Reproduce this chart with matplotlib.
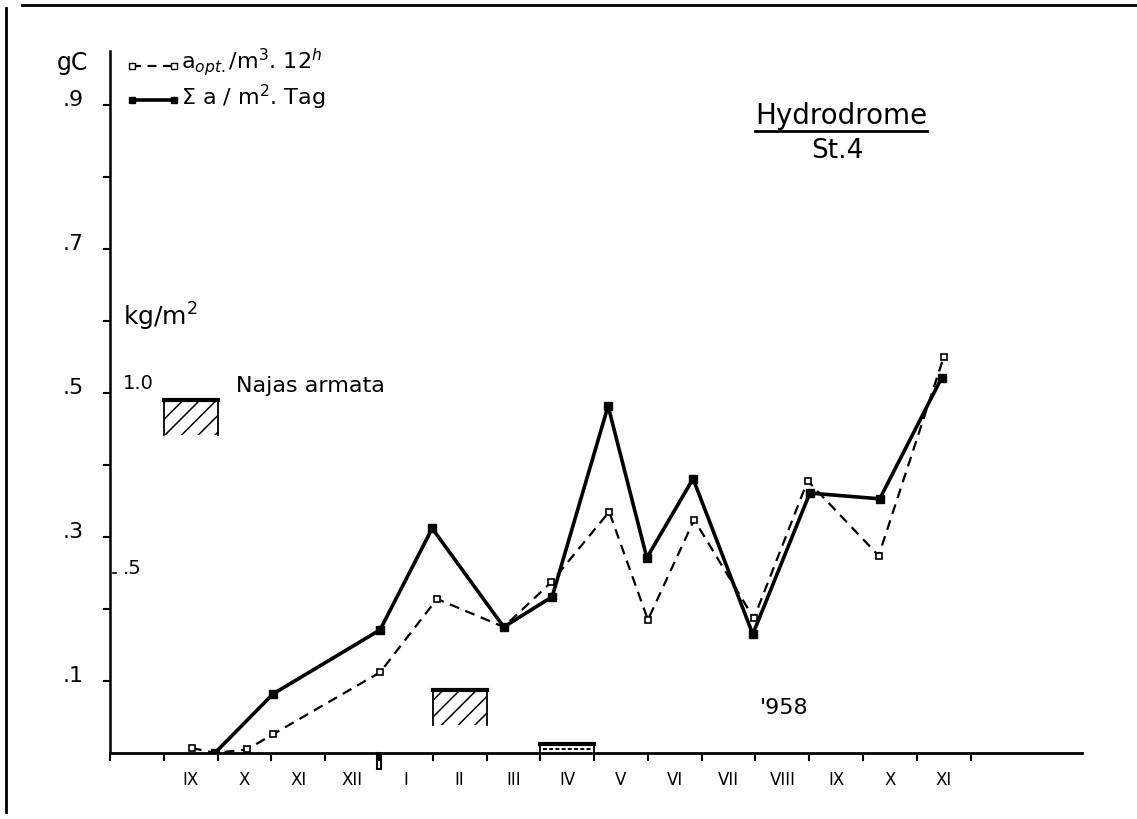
import matplotlib.pyplot as plt
from matplotlib.lines import Line2D
from matplotlib.patches import Rectangle
from matplotlib.transforms import ScaledTranslation

# months counted from start of VIII 1957 (0) ; label sits in the middle of each month
month_labels = ['IX', 'X', 'XI', 'XII', 'I', 'II', 'III', 'IV', 'V', 'VI', 'VII', 'VIII', 'IX', 'X', 'XI']
month_start = 1

# a_opt / m3 . 12h  (gC)
opt_x = [1.52, 1.95, 2.55, 3.03, 5.02, 6.08, 7.32, 8.20, 9.28, 10.0, 10.86, 11.97, 12.97, 14.29, 15.5]
opt_y = [0.007, 0.0, 0.005, 0.026, 0.112, 0.214, 0.175, 0.237, 0.335, 0.185, 0.324, 0.187, 0.378, 0.274, 0.55]

# sum a / m2 . Tag  (gC)
sum_x = [1.95, 3.03, 5.02, 5.99, 7.32, 8.22, 9.26, 9.98, 10.84, 11.95, 13.01, 14.31, 15.46]
sum_y = [0.0, 0.082, 0.171, 0.312, 0.175, 0.217, 0.482, 0.271, 0.381, 0.165, 0.361, 0.353, 0.521]

# Najas armata biomass (kg/m2), month index of the bar
najas_month = [1, 6, 8]
najas_kg = [0.98, 0.175, 0.025]

W, H = 1137, 819
fig = plt.figure(figsize=(W / 100, H / 100), dpi=100)
ax = fig.add_axes([110 / W, 1 - 753 / H, 972 / W, 702 / H])
ax.set_xlim(0, 18.07)
ax.set_ylim(0, 0.975)


def fx(px):
    return px / W


def fy(py):
    return 1 - py / H


# scan frame
fig.add_artist(Line2D([fx(6), fx(6)], [fy(8), fy(812)], color='black', lw=2))
fig.add_artist(Line2D([fx(22), fx(1137)], [fy(5), fy(5)], color='black', lw=2))

ax.plot(opt_x, opt_y, color='black', ls=(0, (4.5, 3)), lw=1.6, marker='s', ms=5,
        mfc='white', mec='black', mew=1.2, zorder=3)
ax.plot(sum_x, sum_y, color='black', lw=2.6, marker='s', ms=5.5, mfc='black', mec='black', zorder=4)

# Najas bars, hatched strip below the top line (drawn in gC scale: 1 kg/m2 = 0.5 gC)
plt.rcParams['hatch.linewidth'] = 1.1
strip = 0.048
for m, kg in zip(najas_month, najas_kg):
    top = kg / 2
    bot = max(top - strip, 0)
    if top - strip < 0:
        # too small for hatching: dashed inner line
        ax.plot([m + 0.05, m + 0.95], [top / 2, top / 2], color='black', lw=1.4, ls=(0, (2, 1.2)), zorder=3)
    else:
        ax.bar(m, top - bot, bottom=bot, width=1, align='edge', color='white',
               hatch='//', edgecolor='black', linewidth=0, zorder=2)
    ax.plot([m, m, m + 1, m + 1], [bot, top, top, bot], color='black', lw=1.3, zorder=3, clip_on=False)
    ax.plot([m, m + 1], [top, top], color='black', lw=3, zorder=3)

# axes
for s in ['top', 'right']:
    ax.spines[s].set_visible(False)
ax.spines['left'].set_linewidth(1.8)
ax.spines['bottom'].set_linewidth(2.0)

ax.set_yticks([i / 10 for i in range(1, 10)])
ax.set_yticklabels(['.1', '', '.3', '', '.5', '', '.7', '', '.9'], fontsize=16)
ax.tick_params(axis='y', direction='out', length=5, width=1.5, pad=14)
for lbl in ax.get_yticklabels():
    lbl.set_transform(lbl.get_transform() + ScaledTranslation(0, 0.07, fig.dpi_scale_trans))

ax.set_xticks(range(0, 17))
ax.set_xticklabels([])
ax.set_xticks([month_start + i + 0.5 for i in range(len(month_labels))], minor=True)
ax.set_xticklabels(month_labels, minor=True, fontsize=12)
ax.tick_params(axis='x', which='major', direction='out', length=6, width=1.5)
ax.tick_params(axis='x', which='minor', length=0, pad=13)

# year boundary mark
ax.add_patch(Rectangle((4.96, -0.022), 0.08, 0.022, fill=False, lw=1.5, clip_on=False))

# secondary kg/m2 scale marks
ax.text(0.24, 0.5, '1.0', fontsize=14, va='bottom', ha='left')
ax.text(0.24, 0.256, '.5', fontsize=14, va='center', ha='left')
ax.plot([0.05, 0.12], [0.25, 0.25], color='black', lw=1.2)
ax.text(0.24, 0.605, 'kg/m$^2$', fontsize=18, va='center', ha='left')
ax.text(2.35, 0.51, 'Najas armata', fontsize=16, va='center', ha='left')
ax.text(12.08, 0.063, "'958", fontsize=16, va='center', ha='left')

# units and legend
fig.text(fx(57), fy(63), 'gC', fontsize=17, va='center', ha='left')
fig.add_artist(Line2D([fx(132), fx(174)], [fy(66), fy(66)], color='black', ls=(0, (4, 3)), lw=1.6,
                      marker='s', ms=4, mfc='white', mec='black', markevery=[0, 1]))
fig.text(fx(181), fy(62), 'a$_{opt.}$/m$^3$. 12$^h$', fontsize=16, va='center', ha='left')
fig.add_artist(Line2D([fx(132), fx(174)], [fy(100), fy(100)], color='black', lw=2.6,
                      marker='s', ms=4.5, mfc='black', mec='black', markevery=[0, 1]))
fig.text(fx(181), fy(97), '\u03a3 a / m$^2$. Tag', fontsize=16, va='center', ha='left')

# station title
fig.text(fx(841), fy(116), 'Hydrodrome', fontsize=20, va='center', ha='center')
fig.add_artist(Line2D([fx(755), fx(927)], [fy(131), fy(131)], color='black', lw=2))
fig.text(fx(837), fy(151), 'St.4', fontsize=19, va='center', ha='center')

fig.savefig('out.png', dpi=100)
